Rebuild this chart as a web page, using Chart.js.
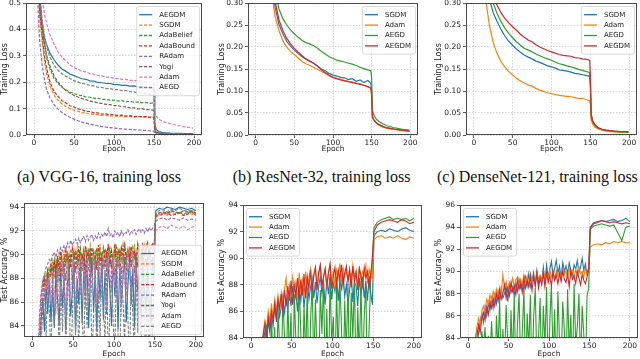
<!DOCTYPE html>
<html><head><meta charset="utf-8">
<script src="https://cdn.jsdelivr.net/npm/chart.js@4"></script>
<style>
body{margin:0;width:640px;height:359px;background:#fff;position:relative;overflow:hidden}
canvas{position:absolute}
.cap{position:absolute;font-family:"Liberation Serif","DejaVu Serif",serif;font-size:16px;line-height:16px;white-space:nowrap;color:#111}
</style></head><body>
<canvas id="c1"></canvas><canvas id="c2"></canvas><canvas id="c3"></canvas>
<canvas id="c4"></canvas><canvas id="c5"></canvas><canvas id="c6"></canvas>
<div class="cap" style="left:-6px;width:210px;text-align:center;top:169px">(a) VGG-16, training loss</div>
<div class="cap" style="left:219px;width:205px;text-align:center;top:169px">(b) ResNet-32, training loss</div>
<div class="cap" style="left:437px;top:169px">(c) DenseNet-121, training loss</div>
<script>
// ---------- categories / ticks ----------
const xTicks = [0, 50, 100, 150, 200];
const lossTicksA = [0, 0.1, 0.2, 0.3, 0.4, 0.5];
const lossTicksB = [0, 0.05, 0.10, 0.15, 0.20, 0.25, 0.30];
const accTicksA = [84, 86, 88, 90, 92, 94];
const accTicksC = [84, 86, 88, 90, 92, 94, 96];
const namesVGG = ['AEGDM','SGDM','AdaBelief','AdaBound','RAdam','Yogi','Adam','AEGD'];
const namesFour = ['SGDM','Adam','AEGD','AEGDM'];

const lossEpochs = [1,3,5,7,10,13,16,20,25,30,35,40,45,50,55,60,65,70,75,80,85,90,95,100,105,110,115,120,125,130,135,140,145,149,150,151,153,156,160,165,170,180,190,199];
const accEpochs = [1,3,5,7,9,11,13,15,17,19,21,23,25,27,29, 31,33,35,37,39,41,43,45,47,49,51,53,55,57,59, 61,63,65,67,69,71,73,75,77,79,81,83,85,87,89, 91,93,95,97,99,101,103,105,107,109,111,113,115,117,119, 121,123,125,127,129,131,133,135,137,139,141,143,145,147,149, 151,155,160,165,170,175,180,185,190,195,200];

// ---------- (a) VGG-16 training loss ----------
const vggLossAEGDM = [1.5,0.9,0.65,0.52,0.42,0.37,0.34,0.31,0.285,0.265, 0.25,0.241,0.231,0.225,0.219,0.213,0.211,0.205,0.204,0.199, 0.198,0.195,0.195,0.192,0.191,0.188,0.188,0.185,0.186,0.182, 0.183,0.18,0.179,0.178,0.17,0.04,0.02,0.013,0.01,0.008, 0.007,0.006,0.005,0.005];
const vggLossSGDM = [1.4,0.8,0.57,0.45,0.36,0.28,0.23,0.185,0.152,0.132, 0.118,0.108,0.1,0.094,0.09,0.085,0.083,0.079,0.078,0.077, 0.074,0.075,0.072,0.073,0.07,0.072,0.069,0.071,0.068,0.07, 0.067,0.069,0.066,0.068,0.062,0.012,0.006,0.004,0.003,0.003, 0.002,0.002,0.002,0.002];
const vggLossAdaBelief = [1.6,0.9,0.62,0.5,0.41,0.34,0.29,0.25,0.215,0.196, 0.18,0.171,0.162,0.158,0.151,0.149,0.144,0.143,0.139,0.139, 0.135,0.135,0.132,0.132,0.129,0.13,0.126,0.127,0.124,0.125, 0.122,0.123,0.12,0.122,0.115,0.025,0.012,0.008,0.006,0.005, 0.004,0.004,0.003,0.003];
const vggLossAdaBound = [1.5,0.85,0.6,0.47,0.38,0.3,0.25,0.2,0.165,0.146, 0.13,0.121,0.111,0.106,0.099,0.096,0.09,0.089,0.084,0.084, 0.079,0.08,0.076,0.077,0.074,0.075,0.072,0.073,0.07,0.071, 0.069,0.07,0.067,0.068,0.064,0.015,0.008,0.005,0.004,0.003, 0.003,0.002,0.002,0.002];
const vggLossRAdam = [1.2,0.7,0.48,0.36,0.27,0.21,0.17,0.14,0.115,0.098, 0.085,0.075,0.067,0.06,0.054,0.049,0.045,0.041,0.038,0.035, 0.032,0.03,0.028,0.026,0.025,0.023,0.022,0.021,0.02,0.019, 0.018,0.017,0.016,0.015,0.014,0.005,0.003,0.002,0.002,0.002, 0.001,0.001,0.001,0.001];
const vggLossYogi = [1.7,0.95,0.65,0.52,0.42,0.35,0.3,0.26,0.225,0.2, 0.183,0.168,0.159,0.15,0.144,0.138,0.134,0.128,0.126,0.121, 0.12,0.116,0.115,0.111,0.111,0.107,0.107,0.103,0.103,0.099, 0.1,0.096,0.096,0.094,0.09,0.02,0.01,0.007,0.005,0.004, 0.004,0.003,0.003,0.003];
const vggLossAdam = [2,1.2,0.8,0.62,0.52,0.46,0.42,0.38,0.345,0.315, 0.295,0.28,0.266,0.255,0.249,0.242,0.239,0.232,0.23,0.225, 0.224,0.219,0.219,0.214,0.214,0.211,0.211,0.207,0.207,0.204, 0.204,0.201,0.201,0.199,0.19,0.09,0.07,0.06,0.053,0.047, 0.043,0.036,0.03,0.026];
const vggLossAEGD = [1.8,1.0,0.7,0.55,0.44,0.38,0.33,0.295,0.265,0.245, 0.232,0.222,0.214,0.206,0.201,0.195,0.193,0.187,0.186,0.181, 0.18,0.176,0.176,0.172,0.172,0.168,0.168,0.164,0.163,0.16, 0.16,0.156,0.155,0.153,0.145,0.035,0.018,0.012,0.009,0.007, 0.006,0.005,0.004,0.004];

// ---------- (b) ResNet-32 training loss ----------
const resLossSGDM = [2.0,1.3,1.0,0.82,0.65,0.52,0.43,0.36,0.29,0.252, 0.23,0.213,0.202,0.193,0.185,0.178,0.172,0.167,0.163,0.157, 0.15,0.146,0.14,0.136,0.134,0.131,0.13,0.126,0.128,0.122, 0.125,0.119,0.124,0.117,0.1,0.042,0.034,0.028,0.023,0.019, 0.016,0.013,0.011,0.009];
const resLossAdam = [1.9,1.2,0.95,0.78,0.6,0.48,0.4,0.33,0.27,0.238, 0.215,0.2,0.19,0.183,0.175,0.167,0.162,0.158,0.154,0.149, 0.145,0.14,0.135,0.131,0.128,0.127,0.124,0.122,0.121,0.118, 0.117,0.113,0.11,0.106,0.09,0.04,0.033,0.027,0.022,0.018, 0.015,0.012,0.01,0.008];
const resLossAEGD = [2.2,1.45,1.1,0.9,0.72,0.58,0.48,0.4,0.33,0.287, 0.265,0.25,0.239,0.23,0.222,0.215,0.21,0.207,0.203,0.197, 0.19,0.184,0.178,0.174,0.17,0.168,0.166,0.163,0.161,0.158, 0.154,0.151,0.148,0.146,0.13,0.055,0.045,0.036,0.03,0.025, 0.021,0.016,0.013,0.011];
const resLossAEGDM = [2.1,1.35,1.05,0.85,0.68,0.55,0.45,0.37,0.305,0.262, 0.238,0.22,0.207,0.197,0.188,0.18,0.173,0.168,0.163,0.156, 0.148,0.142,0.136,0.131,0.128,0.125,0.123,0.121,0.119,0.117, 0.115,0.113,0.11,0.107,0.09,0.042,0.034,0.028,0.023,0.019, 0.016,0.013,0.011,0.009];

// ---------- (c) DenseNet-121 training loss ----------
const denLossSGDM = [2.3,1.6,1.2,0.95,0.7,0.52,0.4,0.31,0.278,0.258, 0.24,0.225,0.213,0.204,0.195,0.188,0.182,0.177,0.173,0.168, 0.165,0.161,0.157,0.155,0.152,0.148,0.147,0.145,0.143,0.14, 0.139,0.137,0.135,0.134,0.11,0.04,0.028,0.02,0.015,0.012, 0.01,0.008,0.007,0.006];
const denLossAdam = [2.0,1.2,0.85,0.62,0.45,0.35,0.3,0.25,0.21,0.185, 0.167,0.155,0.144,0.136,0.129,0.123,0.118,0.114,0.111,0.106, 0.102,0.099,0.096,0.094,0.092,0.09,0.089,0.088,0.087,0.085, 0.083,0.083,0.08,0.078,0.07,0.035,0.025,0.018,0.014,0.011, 0.009,0.007,0.006,0.006];
const denLossAEGD = [2.4,1.7,1.3,1.0,0.75,0.56,0.43,0.34,0.3,0.276, 0.258,0.243,0.231,0.221,0.212,0.204,0.197,0.193,0.189,0.184, 0.18,0.176,0.173,0.17,0.166,0.162,0.16,0.157,0.155,0.152, 0.149,0.147,0.144,0.142,0.12,0.045,0.03,0.022,0.016,0.013, 0.011,0.009,0.007,0.006];
const denLossAEGDM = [2.5,1.8,1.35,1.05,0.8,0.6,0.47,0.38,0.32,0.295, 0.278,0.265,0.255,0.246,0.238,0.229,0.222,0.216,0.212,0.205, 0.2,0.196,0.192,0.189,0.186,0.183,0.181,0.18,0.179,0.176, 0.175,0.173,0.172,0.17,0.14,0.05,0.032,0.023,0.017,0.013, 0.011,0.009,0.008,0.008];

// ---------- VGG-16 test accuracy ----------
const vggAccAEGDM = [10,30,55,72,80,84.5,86.2,83.5,87.6,85.0,88.0,84.3,87.2,83.8,88.5, 86.2,84.0,89.0,85.5,88.2,83.6,87.5,89.2,84.8,86.8,89.4,83.5,88.0,85.8,89.5, 84.2,88.6,86.5,89.6,83.8,87.8,89.7,85.2,88.4,83.5,89.0,86.2,89.8,84.5,88.7, 85.0,89.5,87.0,84.0,89.9,86.5,88.8,83.7,89.3,85.6,88.1,89.8,84.3,87.4,89.6, 85.8,88.9,83.9,89.7,86.8,88.3,84.6,89.9,87.2,85.1,89.6,86.0,84.2,89.8,88.2, 93.7,93.9,93.8,94.0,93.9,93.8,94.0,93.9,93.8,93.9,93.7];
const vggAccSGDM = [10,40,65,78,84,86.5,87.8,87.2,88.5,87.6,89.0,88.3,89.4,88.0,89.6, 88.8,90.0,88.4,89.7,90.3,88.9,90.1,89.3,90.5,88.7,90.2,89.5,90.6,89.1,90.4, 89.0,90.7,88.6,90.3,89.8,90.8,89.2,90.5,88.9,90.6,89.6,90.9,89.3,90.4,89.9, 88.8,90.8,89.5,90.3,88.6,90.9,89.8,90.2,89.1,90.7,89.4,91.0,89.7,90.5,89.2, 90.6,89.5,90.9,88.8,91.0,89.6,90.4,89.2,90.8,90.0,91.1,89.7,90.5,90.9,90.6, 93.2,93.4,93.5,93.3,93.6,93.4,93.5,93.3,93.5,93.4,93.4];
const vggAccAdaBelief = [10,40,64,77,83.5,86.0,87.5,88.2,87.4,88.9,88.1,89.3,88.6,89.6,88.4, 89.8,89.0,90.2,88.6,89.9,89.3,90.3,88.8,90.1,89.5,90.4,88.9,90.0,89.4,90.5, 89.1,90.2,88.7,90.4,89.6,90.6,88.9,90.1,89.4,90.5,89.0,90.3,89.7,90.6,89.2, 90.4,89.5,90.7,88.9,90.2,89.7,90.6,89.0,90.3,89.6,90.8,89.2,90.1,89.8,90.5, 89.3,90.6,89.7,90.2,88.9,90.7,89.5,90.3,89.8,90.6,89.4,90.4,89.9,90.2,90.4, 93.4,93.5,93.6,93.4,93.7,93.5,93.6,93.4,93.6,93.5,93.5];
const vggAccAdaBound = [10,38,62,76,83,85.5,86.8,87.9,87.0,88.5,87.8,89.1,88.2,89.5,88.6, 89.9,88.4,90.3,89.2,88.6,90.5,89.4,90.0,88.9,90.6,89.6,90.2,88.8,90.7,89.3, 90.1,88.5,90.7,89.5,90.3,88.9,90.6,89.7,90.2,88.7,90.8,89.4,90.0,89.1,90.5, 89.8,90.9,89.0,90.3,89.5,90.9,88.8,90.4,89.9,90.6,89.2,90.8,89.6,90.3,89.4, 90.7,89.7,90.2,89.0,90.9,90.1,89.6,90.8,89.9,90.5,91.0,89.8,90.6,90.9,90.7, 93.2,93.3,93.4,93.5,93.3,93.4,93.5,93.3,93.4,93.6,93.3];
const vggAccRAdam = [20,55,72,81,85,86.8,87.8,88.3,88.9,89.2,89.6,89.4,89.9,90.2,89.8, 90.4,90.1,90.6,90.3,90.8,90.4,91.0,90.6,91.2,90.8,91.1,91.3,90.9,91.4,91.0, 91.3,91.5,91.1,91.6,91.2,91.5,91.7,91.2,91.6,91.3,91.8,91.4,91.7,91.5,91.9, 91.5,92.2,91.6,91.8,91.4,92.0,91.7,91.9,91.5,92.0,91.6,91.9,91.8,92.1,91.7, 92.0,91.8,92.1,91.7,92.0,92.2,91.9,92.1,91.8,92.2,91.9,92.3,92.0,92.2,92.4, 92.8,93.0,93.1,92.9,93.1,93.0,92.9,93.1,92.9,93.0,92.9];
const vggAccYogi = [10,38,60,75,83.5,85.8,87.0,87.9,87.1,88.4,87.6,88.9,87.9,89.2,88.1, 89.4,87.7,89.1,88.3,89.5,87.8,89.3,88.5,89.6,88.0,89.2,88.6,89.7,88.2,89.4, 88.6,89.8,87.9,89.5,88.8,89.9,88.1,89.6,88.7,89.3,88.0,89.8,88.5,89.7,88.9, 89.9,88.3,89.6,88.8,90.0,88.2,89.5,89.0,89.8,88.4,90.1,88.9,89.6,88.5,89.9, 88.9,89.7,88.6,90.1,89.0,89.6,88.4,90.0,89.2,89.7,88.8,90.2,89.3,89.6,89.5, 93.3,93.5,93.6,93.5,93.7,93.6,93.5,93.7,93.6,93.7,93.5];
const vggAccAdam = [10,45,68,79,84,85.8,87.0,86.3,87.8,86.5,88.3,86.0,88.7,87.2,85.0, 89.0,87.6,86.2,89.3,88.0,84.6,89.4,87.5,86.4,89.6,88.2,85.8,89.5,87.9,86.6, 89.7,88.4,85.5,89.8,87.3,89.2,86.7,90.0,88.5,85.9,89.6,87.8,86.4,89.9,88.1, 85.4,89.7,88.3,86.9,90.1,87.4,86.1,89.5,88.7,84.9,89.9,87.6,86.8,90.0,88.4, 86.6,90.2,87.5,89.1,84.8,89.8,88.5,86.4,89.9,87.8,86.2,90.1,88.6,87.0,89.3, 92.0,92.3,92.4,92.2,92.5,92.3,92.2,92.4,92.1,92.3,92.4];
const vggAccAEGD = [10,30,50,68,77,82.5,85.5,87.2,83.0,88.0,85.2,81.0,88.4,84.0,86.5, 89.0,80.5,87.8,83.5,89.2,82.0,86.0,88.6,80.0,84.5,89.4,83.2,87.5,81.5,89.5, 85.5,80.8,88.9,83.8,86.8,89.6,81.2,84.8,89.7,80.2,87.0,83.0,89.3,86.0,82.5, 89.7,80.5,85.2,88.9,84.2,81.0,89.5,83.0,80.0,88.5,86.2,82.2,89.8,84.6,80.8, 88.2,85.0,81.5,89.6,83.4,87.5,80.4,89.0,84.0,82.0,89.9,81.0,86.5,82.5,89.5, 93.5,93.7,93.8,93.6,93.8,93.7,93.9,93.7,93.8,93.6,93.8];

// ---------- ResNet-32 test accuracy ----------
const resAccSGDM = [30,55,68,74,78,81,82.5,83.5,84.6,83.9,85.2,84.4,85.8,84.9,86.3, 85.2,86.8,85.6,86.3,87.2,85.9,87.0,86.1,87.6,86.4,87.9,86.7,87.4,86.0,87.8, 86.8,88.0,86.3,87.6,88.3,86.9,87.8,88.5,87.0,88.2,86.6,87.9,88.6,87.3,88.1, 86.5,88.4,87.3,88.8,86.9,88.1,87.5,88.6,86.8,88.3,87.7,88.9,87.1,88.0,86.6, 87.6,88.9,86.7,88.2,87.9,86.4,88.5,87.2,88.6,87.0,88.3,86.8,88.7,87.4,86.5, 91.7,92.0,92.1,92.0,92.2,92.1,92.0,92.2,92.3,92.1,92.0];
const resAccAdam = [30,55,68,74,78,81,83.0,84.5,85.3,84.6,86.0,85.2,86.6,85.5,86.9, 86.0,87.2,86.3,87.4,86.6,87.7,88.5,86.9,88.0,87.3,88.6,87.5,88.2,86.8,88.9, 87.6,88.4,87.1,89.0,87.8,88.5,89.2,87.4,88.7,89.3,87.9,88.8,89.4,88.0,88.6, 89.2,87.8,88.9,89.5,88.3,89.0,87.9,89.1,88.5,89.6,88.2,89.3,88.7,89.0,88.4, 89.2,88.0,89.5,88.6,89.1,87.9,89.4,88.3,89.0,88.7,89.5,88.1,89.2,88.6,88.5, 91.4,91.6,91.7,91.5,91.6,91.5,91.7,91.5,91.4,91.6,91.5];
const resAccAEGD = [30,50,62,70,76,80,82.5,84.2,82.8,85.0,83.2,80.5,85.6,82.0,84.8, 79.5,86.2,83.5,81.0,86.8,84.2,80.2,87.0,82.6,85.9,79.0,87.3,83.8,81.5,88.0, 84.6,80.0,86.5,82.4,87.8,79.6,85.2,88.2,81.8,86.9,83.0,80.4,87.6,84.3,88.4, 81.0,86.2,79.8,88.6,83.6,85.6,80.6,87.9,82.2,88.5,84.9,79.5,86.8,82.8,88.1, 80.8,87.4,84.0,88.7,79.9,86.3,82.5,88.3,81.3,85.7,87.9,80.2,84.8,88.4,90.0, 92.3,92.7,92.9,93.0,93.1,92.9,93.0,92.9,93.0,92.8,93.0];
const resAccAEGDM = [30,55,67,73,78,81,83.0,84.3,85.1,84.0,85.6,84.8,86.0,85.3,86.6, 85.6,86.9,86.2,87.3,85.9,87.6,86.4,87.9,86.8,88.3,86.5,88.0,87.2,88.5,86.9, 88.4,87.2,88.8,87.0,88.6,87.7,89.1,87.5,88.7,89.3,87.6,88.9,89.5,87.8,88.6, 89.2,87.9,88.9,89.6,87.7,88.6,89.3,88.0,89.1,88.4,89.5,87.9,88.8,89.4,88.2, 89.1,87.8,89.4,88.3,88.9,87.6,89.2,88.7,87.9,89.3,88.5,89.0,87.7,88.8,90.0, 92.0,92.5,92.7,92.8,92.9,92.8,92.7,92.9,92.8,92.6,92.7];

// ---------- DenseNet-121 test accuracy ----------
const denAccSGDM = [50,68,78,82,84.0,84.8,84.3,85.6,86.2,85.4,86.8,86.0,87.2,86.5,87.6, 86.7,87.9,87.1,88.2,87.4,88.5,87.6,88.0,88.7,87.3,88.9,88.1,88.6,87.8,89.0, 88.2,89.3,88.5,89.0,88.3,89.5,88.7,89.8,88.6,89.2,89.9,88.8,90.1,89.0,89.6, 89.2,90.4,89.0,90.6,89.5,90.2,90.9,89.6,90.3,91.0,89.8,90.5,89.4,90.8,90.0, 90.5,89.8,90.8,90.1,89.7,90.6,90.2,91.0,89.9,90.4,91.2,90.1,90.7,89.8,90.3, 94.0,94.4,94.5,94.6,94.5,94.6,94.7,94.5,94.6,94.8,94.5];
const denAccAdam = [50,68,78,82,83.8,85.0,85.8,85.2,86.4,86.9,86.3,87.5,87.1,87.9,87.4, 88.2,87.6,88.4,87.8,88.6,88.0,89.7,88.5,89.1,88.3,89.0,88.7,89.4,88.6,89.2, 89.5,88.7,89.3,88.9,89.7,89.1,89.6,88.8,89.8,89.2,89.5,89.0,89.9,89.3,89.6, 89.1,90.0,89.4,89.8,89.2,90.2,89.5,89.9,89.3,90.1,89.6,90.0,89.4,89.9,89.7, 90.0,89.5,90.3,89.6,90.1,89.4,90.2,89.7,90.4,89.8,90.0,89.5,90.3,89.7,90.0, 92.2,92.4,92.5,92.4,92.6,92.5,92.7,92.6,92.7,92.6,92.6];
const denAccAEGD = [40,58,70,77,81,82.5,84.0,82.8,84.6,83.2,85.0,80.5,84.2,81.8,85.5, 82.4,79.6,86.0,83.0,87.5,80.2,84.8,81.5,87.0,83.6,80.0,86.5,82.2,87.8,80.8, 85.2,88.0,81.4,84.5,88.3,80.3,86.2,83.1,87.9,79.8,85.8,88.5,81.6,84.0,87.6, 80.4,86.9,83.4,88.6,80.9,85.4,88.8,82.0,86.6,79.9,88.2,83.8,81.2,87.3,84.6, 80.6,88.4,82.7,86.1,80.1,88.9,83.5,85.0,88.0,81.1,86.9,84.3,80.5,87.8,88.5, 93.8,94.1,94.2,94.3,94.2,94.1,94.2,93.5,92.8,94.0,94.1];
const denAccAEGDM = [45,64,75,80,82.5,84.0,85.2,84.5,85.8,86.3,85.6,86.8,86.1,87.3,86.7, 87.6,86.9,88.0,87.3,88.3,87.5,88.0,88.8,87.6,88.5,87.8,89.0,88.2,88.7,87.9, 89.2,88.4,89.0,88.1,89.4,88.5,89.2,88.6,89.6,88.3,89.5,88.7,89.8,88.5,89.4, 88.8,89.8,88.6,89.9,89.0,89.6,88.7,90.0,89.2,89.7,88.9,89.8,89.1,90.1,89.3, 89.0,89.8,88.6,90.1,89.3,89.6,88.9,90.0,89.4,88.8,89.7,89.2,88.9,89.5,90.2, 93.9,94.3,94.4,94.6,94.5,94.4,94.5,94.4,94.3,94.4,94.3];

// ---------- styling helpers ----------
const C = {blue:'#1f77b4',orange:'#ff7f0e',green:'#2ca02c',red:'#d62728',purple:'#9467bd',brown:'#8c564b',pink:'#e377c2',gray:'#7f7f7f'};
const DASH = [3.2, 1.6];
const FONT = 'DejaVu Sans';

function pts(ep, vals){ return ep.map((e,i)=>({x:e,y:vals[i]})); }
function ds(label, ep, vals, color, dash, width, idx){
  return {label, data:pts(ep,vals), borderColor:color, borderWidth:width, borderDash:dash||[], pointRadius:0, tension:0, fill:false, order:-idx};
}

const framePlugin = {
  id:'frame',
  afterDatasetsDraw(chart){
    const {ctx, chartArea:a} = chart;
    ctx.save();
    ctx.strokeStyle = '#3a3a3a'; ctx.lineWidth = 0.9;
    const l = Math.round(a.left)+0.5, t = Math.round(a.top)+0.5, r = Math.round(a.right)-0.5, b = Math.round(a.bottom)-0.5;
    ctx.strokeRect(l, t, r-l, b-t);
    ctx.restore();
  }
};

const legendPlugin = {
  id:'boxLegend',
  afterDraw(chart, args, o){
    const {ctx, chartArea:a} = chart;
    const items = chart.data.datasets;
    ctx.save();
    ctx.font = '7px "' + FONT + '"';
    const tw = Math.max(...items.map(d=>ctx.measureText(d.label).width));
    const padL = 3, lineLen = 13, gap = 7, padR = 4, rowH = 10.4, padT = 3;
    const w = padL + lineLen + gap + tw + padR;
    const h = padT*2 + rowH*items.length;
    let x, y;
    if (o.loc === 'tr') { x = a.right - o.dx - w; y = a.top + o.dy; }
    else if (o.loc === 'tl') { x = a.left + o.dx; y = a.top + o.dy; }
    else { x = a.right - o.dx - w; y = a.bottom - o.dy - h; }
    ctx.beginPath();
    ctx.roundRect(x+0.5, y+0.5, w, h, 2);
    ctx.fillStyle = 'rgba(255,255,255,0.8)'; ctx.fill();
    ctx.strokeStyle = '#d0d0d0'; ctx.lineWidth = 0.8; ctx.stroke();
    items.forEach((d,i)=>{
      const cy = y + padT + rowH*i + rowH/2 + 0.5;
      ctx.beginPath();
      ctx.setLineDash(d.borderDash || []);
      ctx.strokeStyle = d.borderColor; ctx.lineWidth = 1.3;
      ctx.moveTo(x+padL, cy); ctx.lineTo(x+padL+lineLen, cy); ctx.stroke();
      ctx.setLineDash([]);
      ctx.fillStyle = '#222'; ctx.textBaseline = 'middle'; ctx.textAlign = 'left';
      ctx.fillText(d.label, x+padL+lineLen+gap, cy);
    });
    ctx.restore();
  }
};

function makeChart(id, g, datasets, yCfg, legendOpts){
  const cv = document.getElementById(id);
  const [cx, cy, cw, ch] = g.cv;
  cv.style.left = cx+'px'; cv.style.top = cy+'px';
  cv.width = cw; cv.height = ch;
  cv.style.width = cw+'px'; cv.style.height = ch+'px';
  const yW = g.l - cx, xH = cy + ch - g.b;
  const tickFont = {family:FONT, size:7.5};
  new Chart(cv, {
    type:'line',
    data:{datasets},
    options:{
      responsive:false, animation:false, events:[],
      layout:{padding:{left:0, top:g.t - cy, right:cx + cw - g.r, bottom:0}},
      plugins:{legend:{display:false}, tooltip:{enabled:false}, boxLegend:legendOpts},
      scales:{
        x:{
          type:'linear', min:g.xmin, max:g.xmax,
          afterBuildTicks:s=>{ s.ticks = xTicks.map(v=>({value:v})); },
          afterFit:s=>{ s.height = xH; },
          grid:{color:'#cfcfcf', lineWidth:0.8, drawTicks:true, tickLength:3, tickColor:'#333', tickWidth:0.8},
          border:{display:false, dash:[1.5,1.5]},
          ticks:{font:tickFont, color:'#222', padding:1, maxRotation:0, autoSkip:false, callback:v=>String(v)},
          title:{display:true, text:'Epoch', font:{family:FONT, size:7.5}, color:'#222', padding:{top:0, bottom:g.pb}}
        },
        y:{
          type:'linear', min:yCfg.min, max:yCfg.max,
          afterBuildTicks:s=>{ s.ticks = yCfg.ticks.map(v=>({value:v})); },
          afterFit:s=>{ s.width = yW; },
          grid:{color:'#cfcfcf', lineWidth:0.8, drawTicks:true, tickLength:3, tickColor:'#333', tickWidth:0.8},
          border:{display:false, dash:[1.5,1.5]},
          ticks:{font:tickFont, color:'#222', padding:2, autoSkip:false, callback:v=>yCfg.fmt(v)},
          title:{display:true, text:yCfg.title, font:{family:FONT, size:8}, color:'#222', padding:{top:g.tp, bottom:0}}
        }
      }
    },
    plugins:[framePlugin, legendPlugin]
  });
}

const vggLossVals = [vggLossAEGDM, vggLossSGDM, vggLossAdaBelief, vggLossAdaBound, vggLossRAdam, vggLossYogi, vggLossAdam, vggLossAEGD];
const vggAccVals = [vggAccAEGDM, vggAccSGDM, vggAccAdaBelief, vggAccAdaBound, vggAccRAdam, vggAccYogi, vggAccAdam, vggAccAEGD];
const vggColors = [C.blue, C.orange, C.green, C.red, C.purple, C.brown, C.pink, C.gray];
const fourColors = [C.blue, C.orange, C.green, C.red];

makeChart('c1', {cv:[0,-8,210,163], l:26, t:3, r:202, b:135, xmin:-10, xmax:210, pb:1.5, tp:0},
  namesVGG.map((n,i)=>ds(n, lossEpochs, vggLossVals[i], vggColors[i], i===0?null:DASH, 1.2, i)),
  {min:0, max:0.5, ticks:lossTicksA, fmt:v=>v.toFixed(1), title:'Training Loss'},
  {loc:'tr', dx:3, dy:3});

makeChart('c2', {cv:[210,-8,215,163], l:248, t:3, r:418, b:135, xmin:-10, xmax:210, pb:1.5, tp:7.5},
  namesFour.map((n,i)=>ds(n, lossEpochs, [resLossSGDM,resLossAdam,resLossAEGD,resLossAEGDM][i], fourColors[i], null, 1.2, i)),
  {min:0, max:0.3, ticks:lossTicksB, fmt:v=>v.toFixed(2), title:'Training Loss'},
  {loc:'tr', dx:3, dy:3});

makeChart('c3', {cv:[425,-8,215,163], l:466, t:3, r:637, b:135, xmin:-10, xmax:210, pb:1.5, tp:9},
  namesFour.map((n,i)=>ds(n, lossEpochs, [denLossSGDM,denLossAdam,denLossAEGD,denLossAEGDM][i], fourColors[i], null, 1.2, i)),
  {min:0, max:0.3, ticks:lossTicksB, fmt:v=>v.toFixed(2), title:'Training Loss'},
  {loc:'tr', dx:3, dy:3});

makeChart('c4', {cv:[0,190,210,169], l:24, t:203, r:204, b:337, xmin:-10, xmax:210, pb:0.5, tp:0},
  namesVGG.map((n,i)=>ds(n, accEpochs, vggAccVals[i], vggColors[i], i===0?null:DASH, 1.1, i)),
  {min:83.05, max:94.35, ticks:accTicksA, fmt:v=>String(v), title:'Test Accuracy %'},
  {loc:'br', dx:3, dy:3});

makeChart('c5', {cv:[210,190,215,169], l:243, t:205, r:422, b:338, xmin:-10, xmax:210, pb:0.5, tp:7.5},
  namesFour.map((n,i)=>ds(n, accEpochs, [resAccSGDM,resAccAdam,resAccAEGD,resAccAEGDM][i], fourColors[i], null, 1.1, i)),
  {min:84, max:94, ticks:accTicksA, fmt:v=>String(v), title:'Test Accuracy %'},
  {loc:'tl', dx:3, dy:3});

makeChart('c6', {cv:[425,190,215,169], l:460, t:205, r:638, b:338, xmin:-10, xmax:210, pb:0.5, tp:9.5},
  namesFour.map((n,i)=>ds(n, accEpochs, [denAccSGDM,denAccAdam,denAccAEGD,denAccAEGDM][i], fourColors[i], null, 1.1, i)),
  {min:84, max:96, ticks:accTicksC, fmt:v=>String(v), title:'Test Accuracy %'},
  {loc:'tl', dx:3, dy:3});
</script>
</body></html>
